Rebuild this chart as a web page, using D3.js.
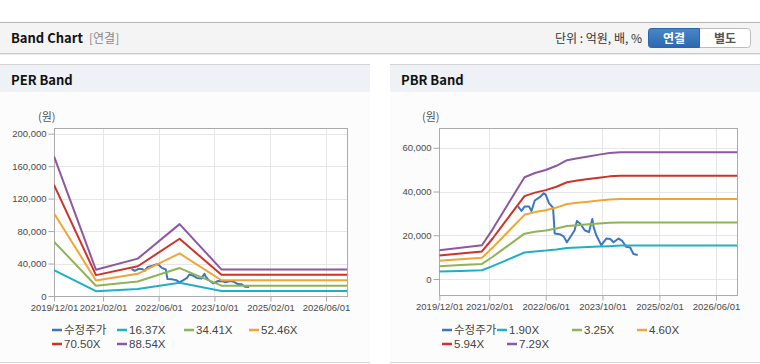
<!DOCTYPE html>
<html><head><meta charset="utf-8">
<script src="https://cdn.jsdelivr.net/npm/d3@7"></script>
<style>
body{margin:0;background:#fff;}
svg{display:block;font-family:"Liberation Sans",Arial,"Noto Sans CJK KR",sans-serif;}
</style>
</head><body>
<svg id="c" width="760" height="364"></svg>
<script>
// ---------- DATA ----------
const xTickLabels = ["2019/12/01","2021/02/01","2022/06/01","2023/10/01","2025/02/01","2026/06/01"];
const xDomain = ["2019-12-01","2026-12-01"];

const priceDates = ["2021-10-07","2021-11-05","2021-12-03","2022-01-09","2022-01-30","2022-02-27","2022-04-11","2022-05-15","2022-06-01","2022-06-29","2022-08-03","2022-08-17","2022-09-29","2022-11-02","2022-11-30","2023-01-07","2023-02-04","2023-02-24","2023-03-25","2023-05-01","2023-06-07","2023-07-06","2023-07-17","2023-08-09","2023-09-21","2023-11-03","2023-12-07","2024-01-04","2024-02-16","2024-03-19","2024-04-22","2024-05-26","2024-06-23","2024-07-30"];
const priceValues = [33200,31100,33200,33200,31100,35900,37400,39200,38600,34700,32600,20800,20500,19500,16800,19900,22300,26500,25300,22300,21400,27400,23800,20000,15500,18500,18300,16800,18500,17400,14700,14400,11400,11000];

const perDates = ["2019-12-01","2020-12-01","2021-12-01","2022-12-01","2023-12-01","2026-12-01"];
const perLabels = ["16.37X","34.41X","52.46X","70.50X","88.54X"];
const per16 = [31800,5980,8510,16370,6060,6060];
const per34 = [66900,12560,17890,34410,12730,12730];
const per52 = [101900,19150,27280,52460,19410,19410];
const per70 = [137000,25730,36660,70500,26090,26090];
const per88 = [172000,32320,46040,88540,32760,32760];
const perYTicks = [0,40000,80000,120000,160000,200000];

const pbrDates = ["2019-12-01","2020-06-01","2020-12-01","2021-03-01","2021-06-01","2021-09-01","2021-12-01","2022-03-01","2022-06-01","2022-09-01","2022-12-01","2023-03-01","2023-06-01","2023-09-01","2023-12-01","2024-03-01","2026-12-01"];
const pbrLabels = ["1.90X","3.25X","4.60X","5.94X","7.29X"];
const pbr190 = [3439,3724,4028,5890,7980,10070,12122,12635,12996,13490,14155,14402,14611,14820,15010,15300,15300];
const pbr325 = [5883,6370,6890,10075,13650,17225,20735,21613,22230,23075,24213,24635,24993,25350,25675,25838,25838];
const pbr460 = [8326,9016,9752,14260,19320,24380,29348,30590,31464,32660,34270,34868,35374,35880,36340,36570,36570];
const pbr594 = [10751,11642,12593,18414,24948,31482,37897,39501,40630,42174,44253,45025,45679,46332,46926,47223,47223];
const pbr729 = [13195,14288,15455,22599,30618,38637,46510,48479,49864,51759,54311,55258,56060,56862,57591,57956,57956];
const pbrYTicks = [0,20000,40000,60000];

const priceLabel = "수정주가";
const colors = ["#3b76c2","#1fb0c8","#8fb455","#f1a535","#cf3229","#8e58a0"];

// ---------- DRAW ----------
const parse = d3.timeParse("%Y-%m-%d");
const parseTick = d3.timeParse("%Y/%m/%d");
const svg = d3.select("#c");
const KR = "'Noto Sans CJK KR',sans-serif";

svg.append("rect").attr("x",0).attr("y",23).attr("width",760).attr("height",30).attr("fill","#f4f4f4");
svg.append("line").attr("x1",0).attr("x2",760).attr("y1",22.5).attr("y2",22.5).attr("stroke","#b3b3b3");
svg.append("line").attr("x1",0).attr("x2",760).attr("y1",53.5).attr("y2",53.5).attr("stroke","#c9c9c9");
svg.append("line").attr("x1",0).attr("x2",760).attr("y1",54.5).attr("y2",54.5).attr("stroke","#ececec");
svg.append("text").attr("x",11).attr("y",43).attr("font-size",13).attr("font-weight","bold").attr("fill","#111").attr("font-family",KR).text("Band Chart");
svg.append("text").attr("x",89).attr("y",43).attr("font-size",12).attr("fill","#888").attr("font-family",KR).text("[연결]");
svg.append("text").attr("x",642).attr("y",43).attr("text-anchor","end").attr("font-size",12).attr("fill","#333").attr("font-family",KR).text("단위 : 억원, 배, %");
const grad = svg.append("defs").append("linearGradient").attr("id","bg").attr("x1",0).attr("x2",0).attr("y1",0).attr("y2",1);
grad.append("stop").attr("offset","0%").attr("stop-color","#4a86c8");
grad.append("stop").attr("offset","100%").attr("stop-color","#2a68b0");
svg.append("rect").attr("x",648.5).attr("y",28.5).attr("width",102).attr("height",19).attr("rx",3).attr("fill","#fff").attr("stroke","#bcbcbc");
svg.append("path").attr("d","M651.5,28.5 H699.5 V47.5 H651.5 Q648.5,47.5 648.5,44.5 V31.5 Q648.5,28.5 651.5,28.5 Z").attr("fill","url(#bg)").attr("stroke","#2a65a8");
svg.append("text").attr("x",674).attr("y",42.5).attr("text-anchor","middle").attr("font-size",12).attr("font-weight","bold").attr("fill","#fff").attr("font-family",KR).text("연결");
svg.append("text").attr("x",725).attr("y",42.5).attr("text-anchor","middle").attr("font-size",12).attr("font-weight","bold").attr("fill","#555").attr("font-family",KR).text("별도");

function panel(x0, w, title){
  svg.append("rect").attr("x",x0).attr("y",92).attr("width",w).attr("height",270).attr("fill","#fcfcfc");
  svg.append("rect").attr("x",x0).attr("y",64).attr("width",w).attr("height",28).attr("fill","#eef1f6");
  svg.append("line").attr("x1",x0).attr("x2",x0+w).attr("y1",64.5).attr("y2",64.5).attr("stroke","#d3d3d3");
  svg.append("line").attr("x1",x0).attr("x2",x0+w).attr("y1",362.5).attr("y2",362.5).attr("stroke","#d8d8d8");
  svg.append("text").attr("x",x0+11).attr("y",85).attr("font-size",13).attr("font-weight","bold").attr("fill","#111").attr("font-family",KR).text(title);
}
panel(0,370,"PER Band");
panel(390,370,"PBR Band");

function chart(cfg){
  const g = svg.append("g");
  const x = d3.scaleTime().domain(xDomain.map(parse)).range([cfg.left,cfg.right]);
  const y = d3.scaleLinear().domain(cfg.yDomain).range([cfg.bottom,cfg.top]);
  const xt = xTickLabels.map(parseTick);
  g.append("rect").attr("x",cfg.left).attr("y",cfg.top).attr("width",cfg.right-cfg.left).attr("height",cfg.bottom-cfg.top).attr("fill","#fff");
  g.selectAll(".gy").data(cfg.yTicks).join("line")
    .attr("x1",cfg.left).attr("x2",cfg.right)
    .attr("y1",d=>Math.round(y(d))+0.5).attr("y2",d=>Math.round(y(d))+0.5)
    .attr("stroke","#e6e6e6");
  g.selectAll(".gx").data(xt).join("line")
    .attr("y1",cfg.top).attr("y2",cfg.bottom)
    .attr("x1",d=>Math.round(x(d))+0.5).attr("x2",d=>Math.round(x(d))+0.5)
    .attr("stroke","#e6e6e6");
  const ya = g.append("g").attr("transform",`translate(${Math.round(cfg.left)+0.5},0)`)
    .call(d3.axisLeft(y).tickValues(cfg.yTicks).tickFormat(d3.format(",")).tickSize(6).tickPadding(2).tickSizeOuter(0));
  const xa = g.append("g").attr("transform",`translate(0,${Math.round(cfg.bottom)+0.5})`)
    .call(d3.axisBottom(x).tickValues(xt).tickFormat(d3.timeFormat("%Y/%m/%d")).tickSize(5).tickPadding(3).tickSizeOuter(0));
  [ya,xa].forEach(a=>{
    a.select(".domain").remove();
    a.selectAll(".tick line").attr("stroke","#aaa");
    a.selectAll("text").attr("fill","#4a4a4a").attr("font-size",9.5).attr("font-family","'Liberation Sans',Arial,sans-serif");
  });
  g.append("rect").attr("x",Math.round(cfg.left)+0.5).attr("y",Math.round(cfg.top)+0.5)
    .attr("width",Math.round(cfg.right)-Math.round(cfg.left)).attr("height",Math.round(cfg.bottom)-Math.round(cfg.top))
    .attr("fill","none").attr("stroke","#ababab");
  g.append("text").attr("x",cfg.unitX).attr("y",121).attr("font-size",11).attr("fill","#555")
    .attr("font-family",KR).text("(원)");
  const cid = "clip"+cfg.id;
  svg.append("clipPath").attr("id",cid).append("rect").attr("x",cfg.left).attr("y",cfg.top).attr("width",cfg.right-cfg.left).attr("height",cfg.bottom-cfg.top);
  const line = d3.line().x(d=>x(d[0])).y(d=>y(d[1]));
  const series = [{name:priceLabel, dates:priceDates, vals:priceValues}]
    .concat(cfg.bands.map((b,i)=>({name:cfg.labels[i], dates:cfg.dates, vals:b})));
  const lg = g.append("g").attr("clip-path",`url(#${cid})`);
  series.forEach((s,i)=>{
    lg.append("path").datum(s.dates.map((d,j)=>[parse(d),s.vals[j]]))
      .attr("d",line).attr("fill","none").attr("stroke",colors[i]).attr("stroke-width",2)
      .attr("stroke-linejoin","round");
  });
  series.forEach((s,i)=>{
    const p = cfg.legend[i];
    g.append("line").attr("x1",p[0]).attr("x2",p[0]+10).attr("y1",p[1]).attr("y2",p[1]).attr("stroke",colors[i]).attr("stroke-width",2.5);
    g.append("text").attr("x",p[0]+12).attr("y",p[1]+4).attr("font-size",11.5).attr("fill","#444")
      .attr("font-family",i===0?KR:"'Liberation Sans',Arial,sans-serif").text(s.name);
  });
}

chart({id:"per", left:54, right:347, top:128, bottom:296, yDomain:[0,207000], yTicks:perYTicks,
  dates:perDates, bands:[per16,per34,per52,per70,per88], labels:perLabels, unitX:38,
  legend:[[52,330],[117,330],[184,330],[249,330],[52,344],[117,344]]});
chart({id:"pbr", left:439.3, right:737.3, top:128.3, bottom:295, yDomain:[-7300,68900], yTicks:pbrYTicks,
  dates:pbrDates, bands:[pbr190,pbr325,pbr460,pbr594,pbr729], labels:pbrLabels, unitX:422,
  legend:[[442,330],[497,330],[572,330],[637,330],[442,344],[507,344]]});
</script>
</body></html>
